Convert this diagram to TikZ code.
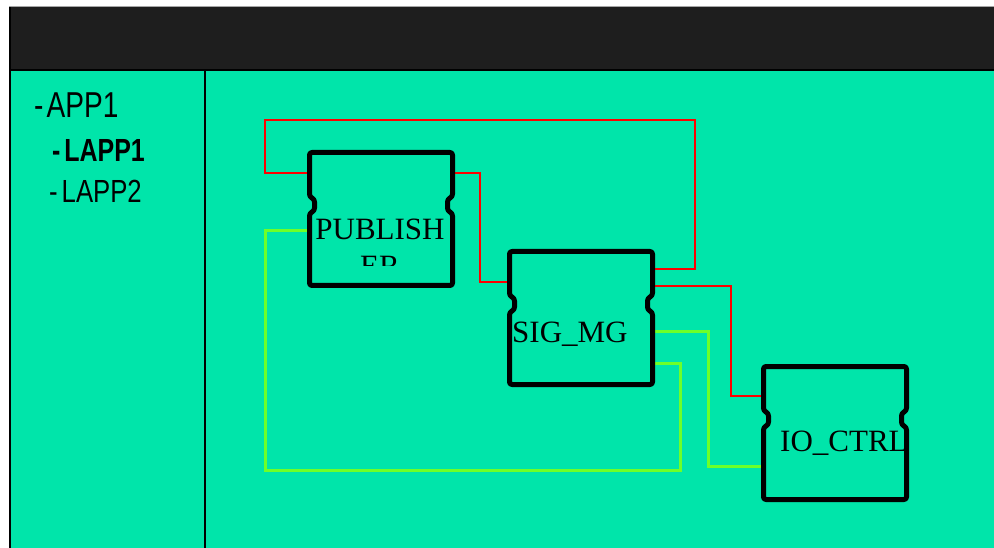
\documentclass[tikz,border=0pt]{standalone}
\usepackage{fontspec}
\setmainfont{Liberation Serif}
\newfontfamily\arialf{Liberation Sans}
\usetikzlibrary{calc}
\definecolor{bggreen}{RGB}{0,229,170}
\definecolor{hdr}{RGB}{30,30,30}
\definecolor{wred}{RGB}{255,0,0}
\definecolor{wlime}{RGB}{110,255,40}
\tikzset{
  blockbox/.style={rectangle,draw=none,inner sep=0pt,outer sep=0pt,minimum width=143pt,minimum height=133pt},
  blockline/.style={line width=5pt,rounded corners=2.5pt,line join=round},
  redwire/.style={draw=wred,line width=2.5pt},
  limewire/.style={draw=wlime,line width=3pt},
  blocklabel/.style={inner sep=0pt,font=\fontsize{31}{37}\selectfont},
  treelabel/.style={inner sep=0pt,anchor=base west,xscale=0.78}
}
\newcommand\blockshape[1]{%
  \draw[blockline] (#1.north west) -- (#1.north east)
    -- ($(#1.north east)+(0,44)$) -- ($(#1.north east)+(-5,47)$)
    -- ($(#1.north east)+(-5,58)$) -- ($(#1.north east)+(0,61)$)
    -- (#1.south east) -- (#1.south west)
    -- ($(#1.north west)+(0,61)$) -- ($(#1.north west)+(5,58)$)
    -- ($(#1.north west)+(5,47)$) -- ($(#1.north west)+(0,44)$) -- cycle;}
\begin{document}
\begin{tikzpicture}[x=1pt,y=-1pt]
\useasboundingbox (0,0) rectangle (994,548);
\fill[white] (0,0) rectangle (994,548);
% frame
\fill[bggreen] (10,7) rectangle (994,548);
\fill[hdr] (10,7) rectangle (994,70);
\draw[gray!70,line width=1pt] (9,6.5) -- (994,6.5);
\draw[black,line width=2pt] (10,7) -- (10,548);
\draw[black,line width=2pt] (10,70) -- (994,70);
\draw[black,line width=2pt] (205,70) -- (205,548);
% tree
\node[treelabel,font=\arialf\fontsize{36}{40}\selectfont] (app1) at (34,118) {-\kern4pt APP1};
\node[treelabel,font=\arialf\bfseries\fontsize{32}{36}\selectfont] (lapp1) at (52,162) {-\kern5pt LAPP1};
\node[treelabel,font=\arialf\fontsize{32}{36}\selectfont,xscale=1.03] (lapp2) at (49,203) {-\kern5pt LAPP2};
% blocks
\node[blockbox] (pub) at (381,219) {};
\node[blockbox] (sig) at (581,318) {};
\node[blockbox] (io) at (835,433) {};
% wires
\draw[redwire] (sig.east |- 0,269) -- (695,269) -- (695,120) -- (265,120) -- (265,173) -- (pub.west |- 0,173);
\draw[redwire] (pub.east |- 0,173) -- (480,173) -- (480,282) -- (sig.west |- 0,282);
\draw[redwire] (sig.east |- 0,286) -- (731,286) -- (731,396) -- (io.west |- 0,396);
\draw[limewire] (sig.east |- 0,331) -- (708,331) -- (708,466) -- (io.west |- 0,466);
\draw[limewire] (sig.east |- 0,363) -- (680,363) -- (680,470) -- (265,470) -- (265,231) -- (pub.west |- 0,231);
\blockshape{pub}
\blockshape{sig}
\blockshape{io}
% labels
\begin{scope}
\clip (300,150) rectangle (460,266);
\node[blocklabel,align=center,anchor=base] (pubtxt) at (380,277) {PUBLISH\\ER};
\end{scope}
\node[blocklabel,anchor=base west] (sigtxt) at (512,342) {SIG\_MG};
\node[blocklabel,anchor=base west] (iotxt) at (780,451) {IO\_CTRL};
\end{tikzpicture}
\end{document}
